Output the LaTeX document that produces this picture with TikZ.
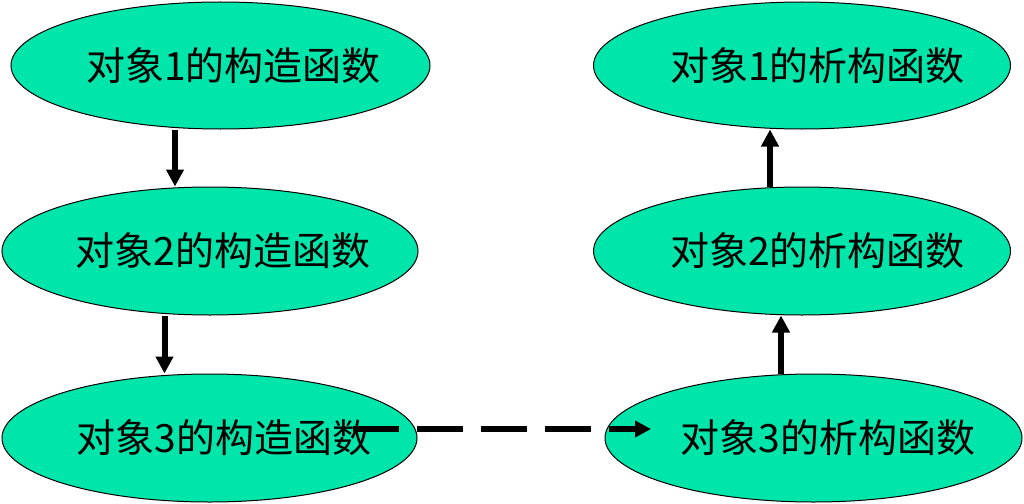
\documentclass[tikz,border=0pt]{standalone}
\usepackage{fontspec}
\newfontfamily\cjk{Noto Sans CJK SC}
\usetikzlibrary{arrows.meta,shapes.geometric}
\definecolor{mint}{RGB}{0,229,170}
\newcommand\ctext[2]{\makebox[0pt]{\hspace*{#1}#2}}
\tikzset{
  oval/.style={ellipse, draw=black, line width=1pt, fill=mint, inner sep=0pt,
    font=\cjk\fontsize{39}{46}\selectfont},
  arr/.style={line width=6pt, -{Triangle[width=17pt,length=17pt]}},
  darr/.style={line width=6pt, dash pattern=on 46pt off 18pt, -{Triangle[width=16pt,length=16pt]}}
}
\begin{document}
\begin{tikzpicture}[x=1pt,y=-1pt]
\useasboundingbox (0,0) rectangle (1024,503);
\node[oval, minimum width=419pt, minimum height=127pt] (l1) at (220.5,65.5) {\ctext{26pt}{对象1的构造函数}};
\node[oval, minimum width=416pt, minimum height=128pt] (l2) at (210,251) {\ctext{26pt}{对象2的构造函数}};
\node[oval, minimum width=415pt, minimum height=128pt] (l3) at (209.5,438) {\ctext{29pt}{对象3的构造函数}};
\node[oval, minimum width=417pt, minimum height=127pt] (r1) at (802,65.5) {\ctext{31pt}{对象1的析构函数}};
\node[oval, minimum width=417pt, minimum height=128pt] (r2) at (802,251) {\ctext{31pt}{对象2的析构函数}};
\node[oval, minimum width=417pt, minimum height=128pt] (r3) at (813.5,438) {\ctext{29pt}{对象3的析构函数}};
\draw[arr] ([xshift=-45.5pt]l1.south) -- ([xshift=-35pt]l2.north);
\draw[arr] ([xshift=-45.5pt]l2.south) -- ([xshift=-45pt]l3.north);
\draw[arr] ([xshift=-32.5pt]r3.north) -- ([xshift=-21pt]r2.south);
\draw[arr] ([xshift=-32pt]r2.north) -- ([xshift=-32pt]r1.south);
\draw[darr] ([xshift=143.5pt,yshift=9pt]l3.center) -- ([xshift=-162.5pt,yshift=9pt]r3.center);
\end{tikzpicture}
\end{document}
